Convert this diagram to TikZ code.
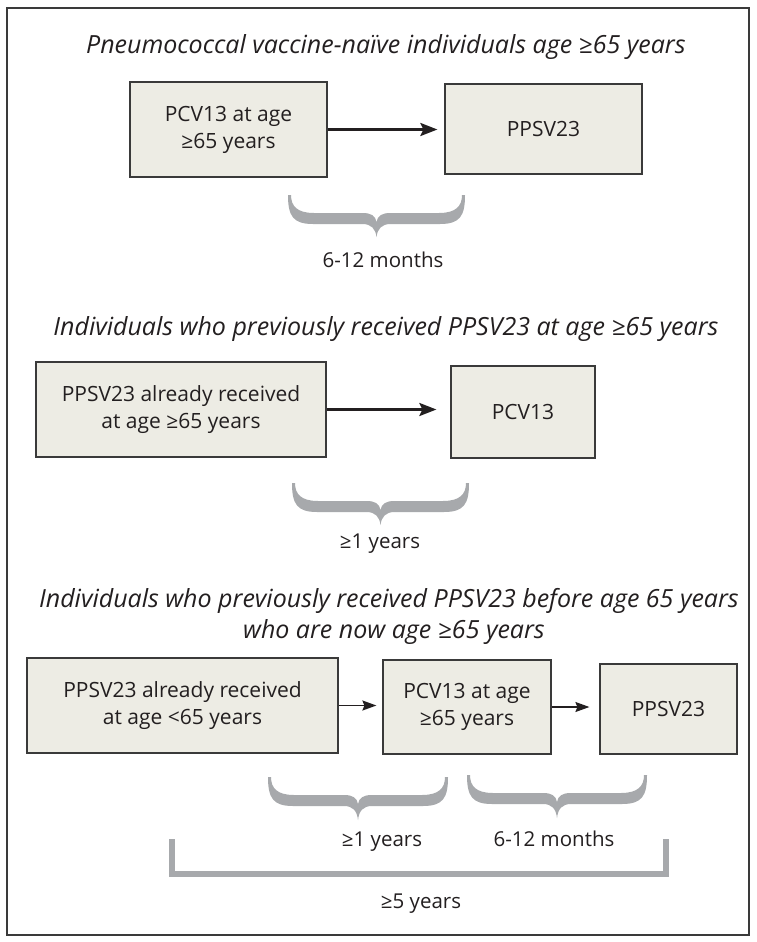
\documentclass[tikz,border=0pt]{standalone}
\usepackage{fontspec}
\setmainfont{Open Sans}
\usetikzlibrary{arrows.meta,calc}
\definecolor{boxfill}{HTML}{EDECE4}
\definecolor{boxline}{HTML}{3A3A3A}
\definecolor{bracegray}{HTML}{A7A9AC}
\definecolor{ink}{HTML}{231F20}
\newcommand\gbrace[4]{%
 \pgfmathsetmacro\bL{#1}\pgfmathsetmacro\bR{#2}\pgfmathsetmacro\bT{#3}\pgfmathsetmacro\bP{#4}%
 \pgfmathsetmacro\bM{(#1+#2)/2}%
 \fill[bracegray] (\bL,\bT) .. controls (\bL,\bT+21) and (\bL+5,\bT+29) .. (\bL+25,\bT+29)
  -- (\bM-14,\bT+29) .. controls (\bM-5,\bT+29) and (\bM-1,\bT+34) .. (\bM,\bP)
  .. controls (\bM+1,\bT+34) and (\bM+5,\bT+29) .. (\bM+14,\bT+29)
  -- (\bR-25,\bT+29) .. controls (\bR-5,\bT+29) and (\bR,\bT+21) .. (\bR,\bT)
  -- (\bR-3,\bT) .. controls (\bR-3,\bT+11) and (\bR-9,\bT+18) .. (\bR-26,\bT+18)
  -- (\bM+14,\bT+18) .. controls (\bM+5,\bT+18) and (\bM+1,\bT+21) .. (\bM,\bT+27)
  .. controls (\bM-1,\bT+21) and (\bM-5,\bT+18) .. (\bM-14,\bT+18)
  -- (\bL+26,\bT+18) .. controls (\bL+9,\bT+18) and (\bL+3,\bT+11) .. (\bL+3,\bT) -- cycle;}
\begin{document}
\begin{tikzpicture}[x=1pt,y=-1pt,
  every node/.style={text=ink},
  vbox/.style={draw=boxline,line width=1.2pt,fill=boxfill,inner sep=0pt,
    align=center,font=\fontsize{21}{27}\selectfont},
  title/.style={font=\fontsize{25}{31}\selectfont\itshape,anchor=base,inner sep=0pt},
  lab/.style={font=\fontsize{20.5}{27}\selectfont,anchor=base,inner sep=0pt},
  bigarrow/.style={-{Stealth[length=17pt,width=13pt,inset=3pt]},line width=2.6pt,ink},
  smallarrow/.style={-{Stealth[length=14pt,width=10pt,inset=2pt]},line width=1.5pt,ink}]
\useasboundingbox (0,0) rectangle (756,942);
\fill[white] (0,0) rectangle (756,942);
\draw[boxline,line width=1.3pt] (7,8) rectangle (749,935);

% Section 1
\node[title] (t1) at (386,53) {Pneumococcal vaccine-naïve individuals age ≥65 years};
\node[vbox,minimum width=197pt,minimum height=95pt] (b1) at (228.5,129.5) {PCV13 at age\\≥65 years};
\node[vbox,minimum width=197pt,minimum height=90pt] (b2) at (543.5,129) {PPSV23};
\draw[bigarrow,shorten >=7pt] (b1.east) -- (b1.east -| b2.west);
\gbrace{288}{465}{195}{237}
\node[lab] (l1) at (383,267) {6-12 months};

% Section 2
\node[title] (t2) at (386,335) {Individuals who previously received PPSV23 at age ≥65 years};
\node[vbox,minimum width=290pt,minimum height=95pt] (b3) at (181,409.5) {PPSV23 already received\\at age ≥65 years};
\node[vbox,minimum width=144pt,minimum height=92pt] (b4) at (523,412) {PCV13};
\draw[bigarrow,shorten >=14pt] (b3.east) -- (b3.east -| b4.west);
\gbrace{292}{469}{483}{525}
\node[lab] (l2) at (380,548) {≥1 years};

% Section 3
\node[title] (t3a) at (389,607) {Individuals who previously received PPSV23 before age 65 years};
\node[title] (t3b) at (394,638) {who are now age ≥65 years};
\node[vbox,minimum width=311pt,minimum height=95pt] (b5) at (182.5,705.5) {PPSV23 already received\\at age <65 years};
\node[vbox,minimum width=168pt,minimum height=94pt] (b6) at (467,707) {PCV13 at age\\≥65 years};
\node[vbox,minimum width=137pt,minimum height=90pt] (b7) at (668.5,709) {PPSV23};
\draw[smallarrow,shorten >=6pt] (b5.east) -- (b5.east -| b6.west);
\draw[smallarrow,shorten >=10pt] (b6.east) -- (b6.east -| b7.west);
\gbrace{268}{448}{777}{820}
\gbrace{467}{647}{775}{818}
\node[lab] (l3) at (382,846) {≥1 years};
\node[lab] (l4) at (554,846) {6-12 months};
\draw[bracegray,line width=5.5pt] (172,839) -- (172,874) -- (666,874) -- (666,839);
\node[lab] (l5) at (421,908) {≥5 years};
\end{tikzpicture}
\end{document}
